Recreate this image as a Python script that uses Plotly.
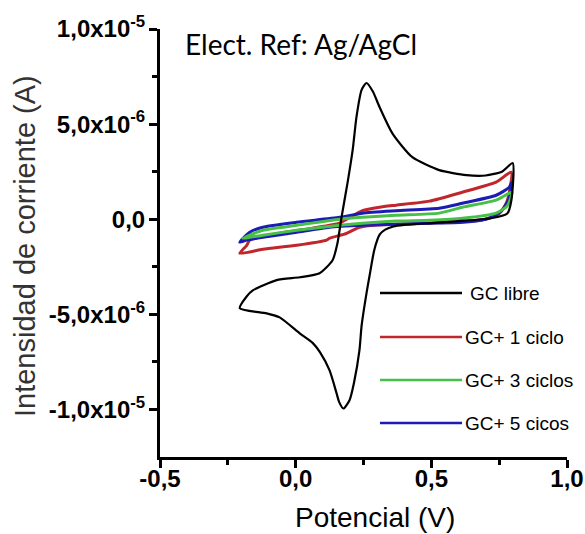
import plotly.graph_objects as go

# voltammograms (potential in V, current in A), one closed loop each
x_libre = [-0.206, -0.18, -0.158, -0.07, 0.015, 0.088, 0.136, 0.154, 0.169, 0.191, 0.21, 0.224, 0.243, 0.261,
           0.285, 0.309, 0.357, 0.43, 0.529, 0.629, 0.70, 0.76, 0.80,
           0.795, 0.78, 0.72, 0.60, 0.50, 0.40, 0.36, 0.33, 0.31, 0.29, 0.272, 0.261, 0.243, 0.235, 0.215,
           0.199, 0.176, 0.16, 0.151, 0.125, 0.09, 0.0625, 0.015, -0.059, -0.107, -0.206]
y_libre = [-4.68e-6, -4.05e-6, -3.74e-6, -3.2e-6, -3.05e-6, -2.84e-6, -2.16e-6, -1.26e-6, 0.1e-6, 1.9e-6, 3.63e-6,
           5.37e-6, 6.8e-6, 7.16e-6, 6.7e-6, 5.9e-6, 4.5e-6, 3.26e-6, 2.58e-6, 2.32e-6, 2.3e-6, 2.5e-6, 2.95e-6,
           1.0e-6, 0.3e-6, 0.05e-6, -0.1e-6, -0.2e-6, -0.3e-6, -0.38e-6, -0.55e-6, -0.8e-6, -1.6e-6, -3.0e-6,
           -3.9e-6, -5.6e-6, -6.9e-6, -8.6e-6, -9.5e-6, -9.95e-6, -9.6e-6, -9.16e-6, -7.95e-6, -7.0e-6,
           -6.5e-6, -6.0e-6, -5.16e-6, -4.95e-6, -4.68e-6]

x_1ciclo = [-0.206, -0.18, -0.169, -0.059, 0.0625, 0.162, 0.2, 0.246, 0.309, 0.37, 0.493, 0.614, 0.739, 0.794,
            0.79, 0.775, 0.75, 0.70, 0.60, 0.50, 0.40, 0.30, 0.235, 0.188, 0.125, 0.114, 0.004, -0.121, -0.206]
y_1ciclo = [-1.79e-6, -1.37e-6, -1.1e-6, -0.74e-6, -0.47e-6, -0.21e-6, 0.1e-6, 0.45e-6, 0.63e-6, 0.74e-6,
            0.95e-6, 1.42e-6, 1.95e-6, 2.47e-6, 1.6e-6, 0.8e-6, 0.3e-6, 0.0, -0.15e-6, -0.2e-6, -0.25e-6,
            -0.3e-6, -0.42e-6, -0.74e-6, -1.0e-6, -1.1e-6, -1.37e-6, -1.58e-6, -1.79e-6]

x_3ciclos = [-0.195, -0.121, 0.004, 0.162, 0.246, 0.37, 0.529, 0.614, 0.739, 0.797,
             0.78, 0.739, 0.614, 0.493, 0.37, 0.246, 0.162, 0.004, -0.121, -0.195]
y_3ciclos = [-1.0e-6, -0.58e-6, -0.32e-6, 0.0, 0.1e-6, 0.21e-6, 0.32e-6, 0.63e-6, 1.0e-6, 1.42e-6,
             0.7e-6, 0.32e-6, 0.05e-6, -0.05e-6, -0.1e-6, -0.21e-6, -0.32e-6, -0.58e-6, -0.84e-6, -1.0e-6]

x_5cicos = [-0.206, -0.169, -0.121, 0.004, 0.162, 0.246, 0.37, 0.529, 0.614, 0.739, 0.787, 0.797,
            0.787, 0.761, 0.713, 0.614, 0.493, 0.37, 0.246, 0.125, 0.004, -0.121, -0.18, -0.206]
y_5cicos = [-1.21e-6, -0.68e-6, -0.42e-6, -0.16e-6, 0.1e-6, 0.32e-6, 0.45e-6, 0.58e-6, 0.84e-6, 1.26e-6,
            1.68e-6, 1.95e-6, 1.1e-6, 0.47e-6, 0.05e-6, -0.16e-6, -0.21e-6, -0.26e-6, -0.32e-6, -0.42e-6,
            -0.68e-6, -0.95e-6, -1.1e-6, -1.21e-6]

nombres = ["GC libre", "GC+ 1 ciclo", "GC+ 3 ciclos", "GC+ 5 cicos"]
colores = ["#000000", "#c0262b", "#48c048", "#1c1cb4"]

x_ticks = [-0.5, 0.0, 0.5, 1.0]
x_ticktext = ["-0,5", "0,0", "0,5", "1,0"]
y_ticks = [1.0e-5, 5.0e-6, 0.0, -5.0e-6, -1.0e-5]
y_ticktext = ["1,0x10<sup>-5</sup>", "5,0x10<sup>-6</sup>", "0,0", "-5,0x10<sup>-6</sup>", "-1,0x10<sup>-5</sup>"]

series = [(x_libre, y_libre), (x_1ciclo, y_1ciclo), (x_3ciclos, y_3ciclos), (x_5cicos, y_5cicos)]

fig = go.Figure()
# colored curves first, black on top
for i in [1, 3, 2, 0]:
    xs, ys = series[i]
    fig.add_trace(go.Scatter(x=xs, y=ys, mode="lines", name=nombres[i], showlegend=False,
                             line=dict(color=colores[i], width=2.2 if i == 0 else 3, shape="spline", smoothing=0.6)))

L, R, T, B = 160, 18, 29, 77
pw, ph = 585 - L - R, 534 - T - B
def px(x):
    return (x - L) / pw
def py(y):
    return (534 - B - y) / ph

# hand-made legend (long sample lines like the original)
leg_y = [293, 337, 380, 423]
for i, nm in enumerate(nombres):
    fig.add_shape(type="line", xref="paper", yref="paper", x0=px(380), x1=px(462), y0=py(leg_y[i]), y1=py(leg_y[i]),
                  line=dict(color=colores[i], width=2.5))
    fig.add_annotation(text=nm, xref="paper", yref="paper", x=px(468 if i == 0 else 463), y=py(leg_y[i]),
                       xanchor="left", yanchor="middle", showarrow=False,
                       font=dict(family="Liberation Sans, Arial", size=19, color="black"))

fig.add_annotation(text="Elect. Ref: Ag/AgCl", xref="paper", yref="paper", x=px(183), y=py(44),
                   xanchor="left", yanchor="middle", showarrow=False,
                   font=dict(family="Lato", size=28, color="black"))

# axis titles
fig.add_annotation(text="Potencial (V)", xref="paper", yref="paper", x=px(375), y=py(517),
                   xanchor="center", yanchor="middle", showarrow=False,
                   font=dict(family="Liberation Sans, Arial", size=28, color="black"))
fig.add_annotation(text="Intensidad de corriente (A)", xref="paper", yref="paper", x=px(25), y=py(246),
                   xanchor="center", yanchor="middle", showarrow=False, textangle=-90,
                   font=dict(family="Liberation Sans, Arial", size=29, color="#333333"))

tick_font = dict(family="Liberation Sans, Arial", size=24, color="black", weight="bold")
fig.update_xaxes(range=[-0.5, 1.0], tickvals=x_ticks, ticktext=x_ticktext, automargin=False,
                 showgrid=False, zeroline=False, showline=True, linecolor="black", linewidth=3,
                 ticks="outside", ticklen=8, tickwidth=3, tickcolor="black", ticklabelstandoff=-10,
                 minor=dict(tickvals=[-0.25, 0.25, 0.75], ticks="outside", ticklen=5, tickwidth=3, tickcolor="black"),
                 tickfont=tick_font)
fig.update_yaxes(range=[-1.25e-5, 1.0e-5], tickvals=y_ticks, ticktext=y_ticktext, automargin=False,
                 showgrid=False, zeroline=False, showline=True, linecolor="black", linewidth=3,
                 ticks="outside", ticklen=8, tickwidth=3, tickcolor="black", ticklabelstandoff=-1,
                 minor=dict(tickvals=[7.5e-6, 2.5e-6, -2.5e-6, -7.5e-6], ticks="outside", ticklen=5,
                            tickwidth=3, tickcolor="black"),
                 tickfont=tick_font)

fig.update_layout(width=585, height=534, margin=dict(l=L, r=R, t=T, b=B),
                  plot_bgcolor="white", paper_bgcolor="white", showlegend=False)

# page body has a default 8px margin; drop it so the figure fills the window
fig.write_html("out.html", config={"displayModeBar": False},
               post_script="document.body.style.margin='0';")
